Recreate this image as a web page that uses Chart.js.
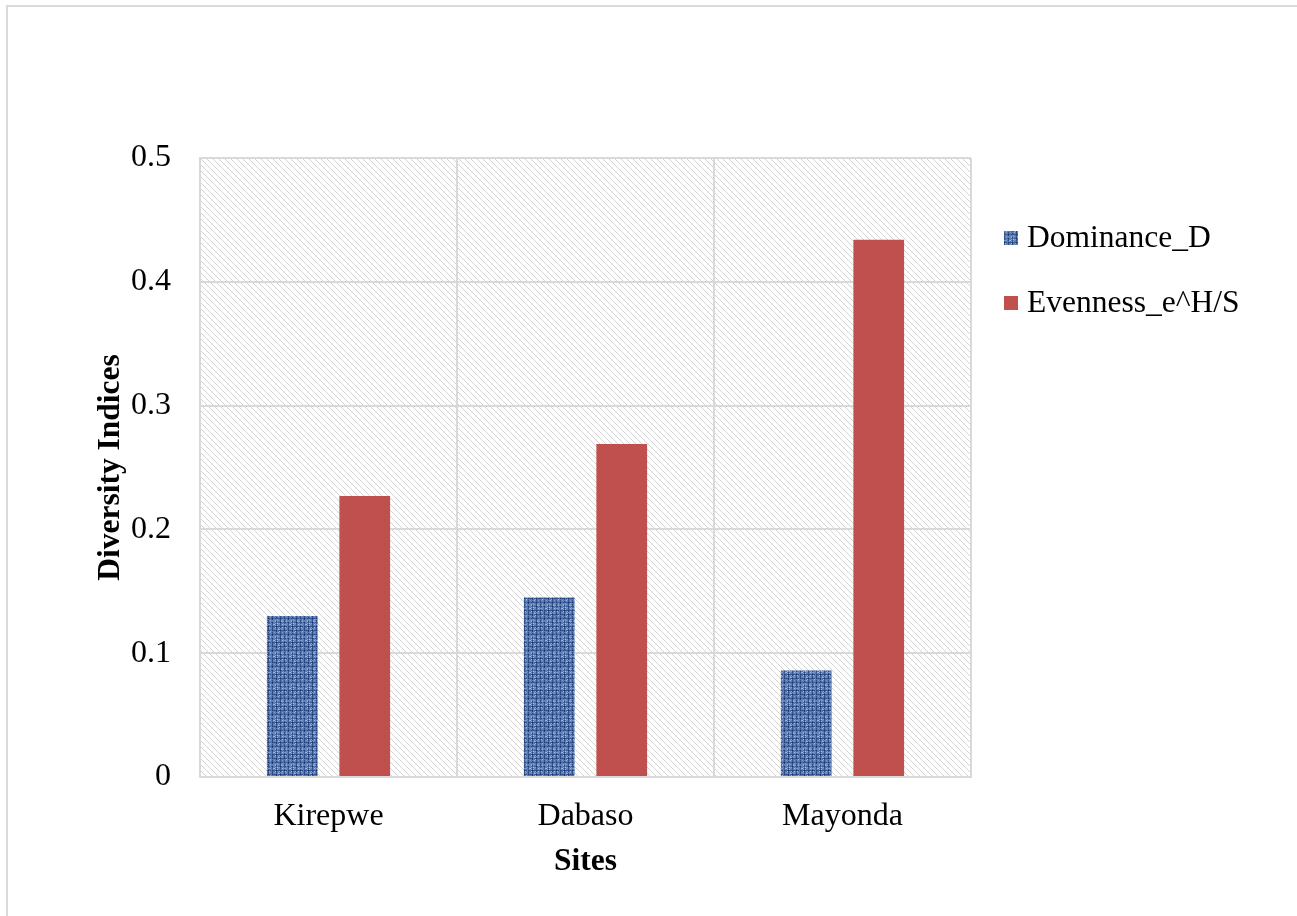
<!DOCTYPE html>
<html>
<head>
<meta charset="utf-8">
<script src="https://cdn.jsdelivr.net/npm/chart.js@4/dist/chart.umd.min.js"></script>
<style>
  body { margin: 0; background: #fff; }
  #frame { position: absolute; left: 6px; top: 5px; width: 1295px; height: 920px;
           border: 2px solid #d9d9d9; border-bottom: none; box-sizing: border-box; }
  #myChart { position: absolute; left: 0; top: 0; }
</style>
</head>
<body>
<div id="frame"></div>
<canvas id="myChart" width="1297" height="916"></canvas>
<script>
// chart data
const sites = ['Kirepwe', 'Dabaso', 'Mayonda'];
const dominance = [0.130, 0.145, 0.086];
const evenness = [0.227, 0.269, 0.434];
const seriesNames = ['Dominance_D', 'Evenness_e^H/S'];
const yTicks = [0, 0.1, 0.2, 0.3, 0.4, 0.5];

const serif = "'Liberation Serif', 'Times New Roman', serif";

// diagonal hatch for the plot background
function hatchPattern(ctx) {
  const c = document.createElement('canvas');
  c.width = 6; c.height = 6;
  const g = c.getContext('2d');
  g.fillStyle = '#ffffff';
  g.fillRect(0, 0, 6, 6);
  g.strokeStyle = '#d4d4d4';
  g.lineWidth = 1;
  g.beginPath();
  g.moveTo(-1, -1); g.lineTo(7, 7);
  g.moveTo(-4, 2); g.lineTo(4, 10);
  g.moveTo(2, -4); g.lineTo(10, 4);
  g.stroke();
  return ctx.createPattern(c, 'repeat');
}

// woven blue texture for the first series (fixed, not random)
function weavePattern(ctx) {
  const n = 16;
  const c = document.createElement('canvas');
  c.width = n; c.height = n;
  const g = c.getContext('2d');
  const img = g.createImageData(n, n);
  const dark = [26, 56, 116], light = [175, 208, 252];
  for (let y = 0; y < n; y++) {
    for (let x = 0; x < n; x++) {
      let h = ((x * 374761393 + y * 668265263) ^ (x * y * 2246822519)) >>> 0;
      h = ((h ^ (h >>> 13)) * 1274126177) >>> 0;
      let t = 0.68 + ((h & 255) / 255 - 0.5) * 0.5;
      if (x % 4 === 0) t -= 0.28;
      if (y % 4 === 2) t -= 0.22;
      if (x % 4 === 2 && y % 4 === 0) t += 0.2;
      t = Math.max(0, Math.min(1, t));
      const i = (y * n + x) * 4;
      img.data[i] = dark[0] + (light[0] - dark[0]) * t;
      img.data[i + 1] = dark[1] + (light[1] - dark[1]) * t;
      img.data[i + 2] = dark[2] + (light[2] - dark[2]) * t;
      img.data[i + 3] = 255;
    }
  }
  g.putImageData(img, 0, 0);
  return ctx.createPattern(c, 'repeat');
}

const ctx = document.getElementById('myChart').getContext('2d');
const bluePattern = weavePattern(ctx);
const bgPattern = hatchPattern(ctx);

const plotBackground = {
  id: 'plotBackground',
  beforeDraw(chart) {
    const a = chart.chartArea;
    const c = chart.ctx;
    c.save();
    c.fillStyle = bgPattern;
    c.fillRect(a.left, a.top, a.right - a.left, a.bottom - a.top);
    c.restore();
  }
};

// legend on the right, drawn from the datasets
const sideLegend = {
  id: 'sideLegend',
  afterDraw(chart) {
    const c = chart.ctx;
    c.save();
    c.font = '31.5px ' + serif;
    c.textBaseline = 'middle';
    chart.data.datasets.forEach((ds, i) => {
      const y = 238 + i * 65;
      c.fillStyle = ds.backgroundColor;
      c.fillRect(1004, y - 7, 14, 14);
      c.fillStyle = '#000';
      c.fillText(ds.label, 1027, y + 1);
    });
    c.restore();
  }
};

const myChart = new Chart(ctx, {
  type: 'bar',
  data: {
    labels: sites,
    datasets: [{
      label: seriesNames[0],
      data: dominance,
      backgroundColor: bluePattern,
      categoryPercentage: 0.564,
      barPercentage: 0.70
    }, {
      label: seriesNames[1],
      data: evenness,
      backgroundColor: '#c0504d',
      categoryPercentage: 0.564,
      barPercentage: 0.70
    }]
  },
  options: {
    responsive: false,
    animation: false,
    layout: { padding: { left: 0, right: 326, top: 158, bottom: 0 } },
    plugins: {
      legend: { display: false },
      tooltip: { enabled: false }
    },
    scales: {
      x: {
        grid: { color: '#d9d9d9', lineWidth: 2, drawTicks: false },
        border: { color: '#d9d9d9', width: 2 },
        ticks: { color: '#000', padding: 20, font: { family: serif, size: 32 } },
        title: {
          display: true, text: 'Sites', color: '#000',
          padding: { top: 0, bottom: 35 },
          font: { family: serif, size: 31.5, weight: 'bold' }
        },
        afterFit(scale) { scale.height = 139; }
      },
      y: {
        min: 0, max: 0.5,
        afterBuildTicks(scale) { scale.ticks = yTicks.map(v => ({ value: v })); },
        grid: { color: '#d9d9d9', lineWidth: 2, drawTicks: false },
        border: { color: '#d9d9d9', width: 2 },
        ticks: {
          color: '#000', padding: 29, font: { family: serif, size: 32 },
          callback: v => String(v)
        },
        title: {
          display: true, text: 'Diversity Indices', color: '#000',
          padding: { top: 92, bottom: 0 },
          font: { family: serif, size: 31.5, weight: 'bold' }
        },
        afterFit(scale) { scale.width = 200; }
      }
    }
  },
  plugins: [plotBackground, sideLegend]
});
</script>
</body>
</html>
